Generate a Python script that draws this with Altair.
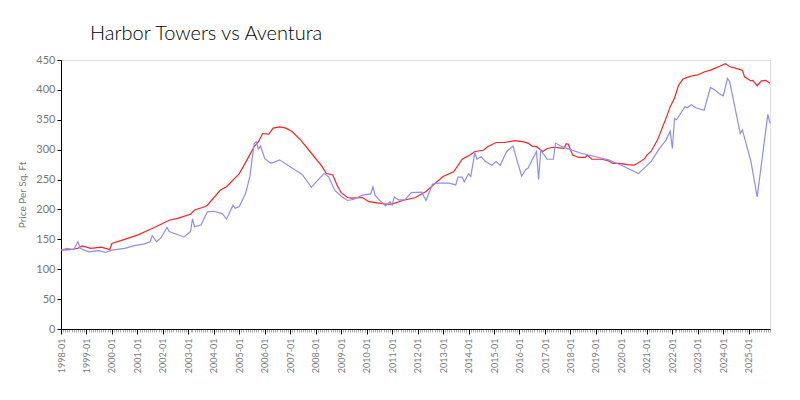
import altair as alt
import pandas as pd

# Aventura (red, smoother)
aventura_dates = [
    "1998-01", "1998-06", "1998-09", "1998-11", "1999-03", "1999-08", "1999-10", "1999-12",
    "2000-01", "2000-07", "2001-01", "2001-08", "2002-04", "2002-08", "2003-02", "2003-04",
    "2003-09", "2003-10", "2004-04", "2004-07", "2005-01", "2005-05", "2005-08", "2005-10",
    "2005-12", "2006-03", "2006-05", "2006-08", "2006-11", "2007-02", "2007-06", "2007-11",
    "2008-04", "2008-06", "2008-09", "2008-11", "2009-01", "2009-04", "2009-06", "2009-11",
    "2010-02", "2010-06", "2010-10", "2011-01", "2011-06", "2011-12", "2012-05", "2012-10",
    "2013-01", "2013-06", "2013-10", "2014-02", "2014-04", "2014-08", "2014-10", "2015-02",
    "2015-06", "2015-11", "2016-03", "2016-05", "2016-07", "2016-09", "2016-12", "2017-02",
    "2017-05", "2017-10", "2017-11", "2017-12", "2018-02", "2018-05", "2018-08", "2018-09",
    "2018-11", "2019-04", "2019-07", "2019-09", "2019-12", "2020-04", "2020-07", "2020-09",
    "2020-12", "2021-01", "2021-03", "2021-06", "2021-10", "2021-12", "2022-02", "2022-04",
    "2022-06", "2022-08", "2022-11", "2023-01", "2023-04", "2023-07", "2023-09", "2023-11",
    "2024-02", "2024-04", "2024-07", "2024-10", "2024-11", "2025-02", "2025-03", "2025-05",
    "2025-07", "2025-09", "2025-11",
]
aventura_values = [
    132, 133, 135, 139, 135, 137, 135, 133,
    143, 150, 157, 168, 182, 185, 192, 199,
    205, 207, 232, 238, 260, 285, 305, 313,
    327, 326, 336, 338, 336, 330, 316, 294,
    272, 260, 258, 241, 228, 220, 219, 220,
    213, 211, 209, 209, 215, 220, 230, 246,
    255, 263, 284, 292, 297, 299, 305, 312,
    312, 315, 313, 311, 306, 305, 297, 302,
    304, 302, 310, 309, 291, 287, 287, 291,
    284, 284, 281, 277, 277, 275, 274, 278,
    285, 291, 297, 316, 352, 372, 386, 408,
    418, 421, 424, 425, 430, 433, 436, 439,
    444, 439, 436, 433, 422, 415, 416, 407,
    415, 416, 411,
]

# Harbor Towers (blue, noisy)
harbor_dates = [
    "1998-01", "1998-04", "1998-07", "1998-09", "1998-10", "1999-02", "1999-07", "1999-10",
    "2000-01", "2000-07", "2000-12", "2001-04", "2001-07", "2001-08", "2001-10", "2001-12",
    "2002-03", "2002-04", "2002-11", "2003-02", "2003-03", "2003-04", "2003-07", "2003-10",
    "2004-01", "2004-05", "2004-07", "2004-08", "2004-10", "2004-11", "2005-01", "2005-04",
    "2005-06", "2005-08", "2005-09", "2005-10", "2005-11", "2006-01", "2006-04", "2006-08",
    "2007-02", "2007-06", "2007-07", "2007-11", "2008-02", "2008-05", "2008-07", "2008-10",
    "2009-01", "2009-04", "2009-07", "2009-11", "2010-03", "2010-04", "2010-05", "2010-07",
    "2010-10", "2010-12", "2011-01", "2011-02", "2011-04", "2011-07", "2011-10", "2012-03",
    "2012-05", "2012-08", "2012-10", "2013-04", "2013-07", "2013-08", "2013-10", "2013-11",
    "2014-01", "2014-02", "2014-04", "2014-05", "2014-07", "2014-09", "2014-12", "2015-02",
    "2015-04", "2015-07", "2015-10", "2015-12", "2016-02", "2016-04", "2016-05", "2016-09",
    "2016-10", "2016-11", "2017-02", "2017-05", "2017-06", "2017-09", "2018-06", "2018-12",
    "2019-07", "2020-01", "2020-09", "2020-12", "2021-03", "2021-07", "2021-10", "2021-12",
    "2022-01", "2022-02", "2022-03", "2022-05", "2022-07", "2022-08", "2022-10", "2022-12",
    "2023-04", "2023-07", "2023-09", "2023-11", "2024-01", "2024-03", "2024-04", "2024-09",
    "2024-10", "2025-02", "2025-05", "2025-10", "2025-11",
]
harbor_values = [
    132, 135, 133, 146, 135, 129, 131, 128,
    132, 135, 140, 142, 146, 156, 146, 152,
    170, 163, 154, 163, 184, 171, 174, 196,
    197, 193, 184, 191, 207, 202, 205, 227,
    255, 310, 313, 301, 306, 285, 277, 283,
    269, 260, 257, 237, 249, 260, 255, 232,
    222, 215, 217, 224, 226, 238, 224, 216,
    206, 213, 207, 221, 216, 216, 228, 229,
    215, 242, 244, 244, 241, 254, 254, 246,
    260, 255, 295, 284, 288, 280, 274, 280,
    274, 297, 306, 280, 256, 267, 269, 297,
    250, 299, 284, 284, 311, 305, 294, 289,
    283, 274, 260, 270, 280, 302, 316, 331,
    302, 352, 350, 361, 372, 370, 375, 370,
    366, 404, 400, 394, 390, 419, 414, 327,
    333, 280, 221, 359, 344,
]

series_names = ["Aventura", "Harbor Towers"]
series_colors = ["#ff2020", "#8c8cff"]
y_ticks = [0, 50, 100, 150, 200, 250, 300, 350, 400, 450]

df = pd.concat([
    pd.DataFrame({"date": aventura_dates, "price": aventura_values, "series": "Aventura"}),
    pd.DataFrame({"date": harbor_dates, "price": harbor_values, "series": "Harbor Towers"}),
])
df["date"] = df["date"] + "-01"

font = "Lato"

chart = alt.Chart(df).mark_line(strokeWidth=1.2).encode(
    x=alt.X(
        "date:T",
        scale=alt.Scale(domain=["1998-01-01", "2025-11-01"], nice=False),
        axis=alt.Axis(
            title=None,
            tickCount={"interval": "month", "step": 1},
            labelExpr="month(datum.value) == 0 ? timeFormat(datum.value, '%Y-%m') : ''",
            labelAngle=-90,
            labelOverlap=False,
            labelFont=font,
            labelFontSize=9,
            labelColor="#777777",
            labelPadding=4,
            domainColor="#000000",
            tickColor={"condition": {"test": "month(datum.value) == 0", "value": "#000000"}, "value": "#aaaaaa"},
            tickSize={"condition": {"test": "month(datum.value) == 0", "value": 5}, "value": 3},
            grid=False,
        ),
    ),
    y=alt.Y(
        "price:Q",
        scale=alt.Scale(domain=[0, 450], nice=False),
        axis=alt.Axis(
            title="Price Per Sq. Ft",
            values=y_ticks,
            titleFont=font,
            titleFontSize=10,
            titleFontWeight="normal",
            titleColor="#777777",
            titlePadding=8,
            labelFont=font,
            labelFontSize=11,
            labelColor="#777777",
            domainColor="#000000",
            tickColor="#000000",
            tickSize=4,
            grid=False,
        ),
    ),
    color=alt.Color(
        "series:N",
        scale=alt.Scale(domain=series_names, range=series_colors),
        legend=None,
    ),
    order=alt.Order("date:T"),
).properties(
    width=709,
    height=269,
    title=alt.TitleParams(
        "Harbor Towers vs Aventura",
        anchor="start",
        frame="group",
        dx=29,
        offset=10,
        font=font,
        fontSize=20,
        fontWeight=300,
        color="#000000",
    ),
    autosize=alt.AutoSizeParams(type="none"),
    padding={"left": 53, "top": 52, "right": 22, "bottom": 70},
).configure_view(stroke=None).configure(background="white")

chart.save("out.html", embed_options={"renderer": "svg", "actions": False})
